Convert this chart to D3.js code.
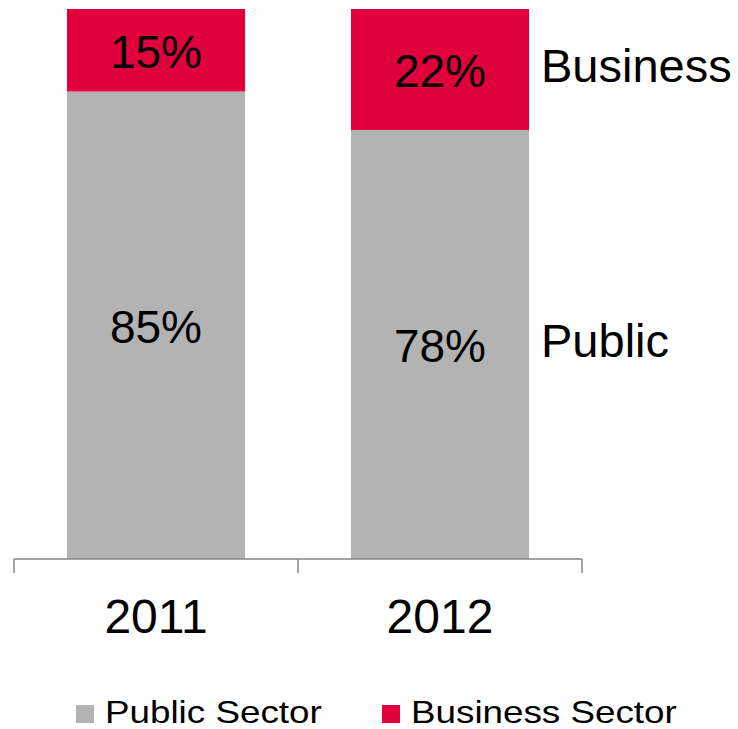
<!DOCTYPE html>
<html>
<head>
<meta charset="utf-8">
<script src="https://cdn.jsdelivr.net/npm/d3@7"></script>
<style>
	body { margin: 0; background: #fff; }
	text { font-family: "Liberation Sans", Arial, sans-serif; fill: #000; }
</style>
</head>
<body>
<div id="chart"></div>
<script>
// データ
const years = ["2011", "2012"];
const publicShare = [85, 78];
const businessShare = [15, 22];
const seriesNames = ["Public Sector", "Business Sector"];
const sideLabels = ["Public", "Business"];

const width = 738, height = 729;
const colors = { "Public Sector": "#b3b3b3", "Business Sector": "#e0003c" };

const svg = d3.select("#chart").append("svg")
	.attr("width", width).attr("height", height);

const x = d3.scaleBand()
	.domain(years)
	.range([14, 582])
	.paddingInner(0.373)
	.paddingOuter(0.1865);

const y = d3.scaleLinear()
	.domain([0, 100])
	.range([559, 9]);

// stack用の表
const rows = years.map((yr, i) => ({
	year: yr,
	"Public Sector": publicShare[i],
	"Business Sector": businessShare[i]
}));
const stacked = d3.stack().keys(seriesNames)(rows);

const layer = svg.selectAll(".layer")
	.data(stacked)
	.enter().append("g")
	.attr("class", "layer")
	.attr("fill", d => colors[d.key]);

layer.selectAll("rect")
	.data(d => d)
	.enter().append("rect")
	.attr("x", d => x(d.data.year))
	.attr("y", d => y(d[1]))
	.attr("width", x.bandwidth())
	.attr("height", d => y(d[0]) - y(d[1]));

layer.selectAll("text")
	.data(d => d)
	.enter().append("text")
	.attr("x", d => x(d.data.year) + x.bandwidth() / 2)
	.attr("y", d => (y(d[0]) + y(d[1])) / 2)
	.attr("dy", "0.38em")
	.attr("text-anchor", "middle")
	.style("font-size", "46px")
	.text(d => (d[1] - d[0]) + "%");

// 軸
const axis = svg.append("g");
axis.append("line")
	.attr("x1", x.range()[0]).attr("x2", x.range()[1])
	.attr("y1", y(0)).attr("y2", y(0))
	.attr("stroke", "#868686").attr("stroke-width", 1.5);
const tickXs = [x.range()[0]].concat(years.map(yr => x(yr) + x.bandwidth() / 2 + x.step() / 2));
axis.selectAll(".tick")
	.data(tickXs)
	.enter().append("line")
	.attr("x1", d => d).attr("x2", d => d)
	.attr("y1", y(0)).attr("y2", y(0) + 14)
	.attr("stroke", "#868686").attr("stroke-width", 1.5);
axis.selectAll(".yearlabel")
	.data(years)
	.enter().append("text")
	.attr("x", d => x(d) + x.bandwidth() / 2)
	.attr("y", 633)
	.attr("text-anchor", "middle")
	.style("font-size", "48px")
	.text(d => d);

// 右側のラベル
svg.append("text")
	.attr("x", 541).attr("y", 357)
	.style("font-size", "47px")
	.text(sideLabels[0]);
svg.append("text")
	.attr("x", 541).attr("y", 82)
	.style("font-size", "47px")
	.text(sideLabels[1]);

// 凡例（元の図は文字が横に少し広い）
const legendX = [76, 382];
const legend = svg.selectAll(".legend")
	.data(seriesNames)
	.enter().append("g")
	.attr("class", "legend")
	.attr("transform", (d, i) => "translate(" + legendX[i] + ",705)");
legend.append("rect")
	.attr("width", 18).attr("height", 18)
	.attr("fill", d => colors[d]);
legend.append("text")
	.attr("transform", "translate(29,18) scale(1.15,1)")
	.style("font-size", "32px")
	.text(d => d);
</script>
</body>
</html>
